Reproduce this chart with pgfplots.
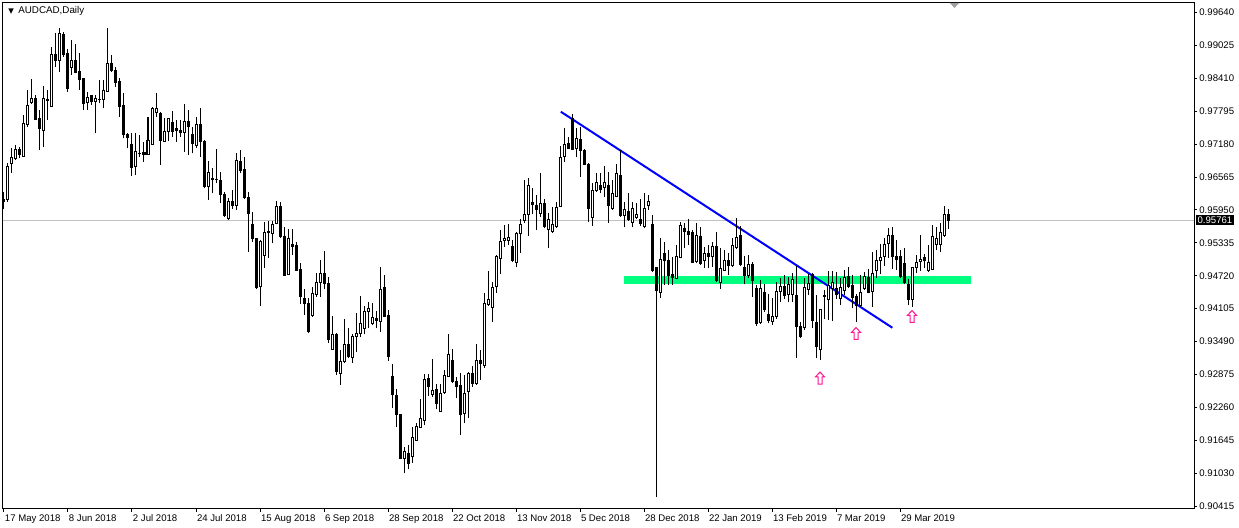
\documentclass[border=0pt]{standalone}
\usepackage{fontspec}
\setmainfont{Liberation Sans}
\newfontfamily\dejavu{DejaVu Sans}
\usepackage{pgfplots}
\usepackage{pgfplotstable}
\pgfplotsset{compat=1.18}
\definecolor{bandgreen}{RGB}{0,255,127}
\definecolor{arrowpink}{RGB}{255,20,147}
\definecolor{bidgray}{RGB}{192,192,192}
\definecolor{shiftgray}{RGB}{160,160,160}

\pgfdeclareplotmark{blank}{}
\pgfdeclareplotmark{hollowup}{%
  \pgfpathmoveto{\pgfpoint{0pt}{3pt}}
  \pgfpathlineto{\pgfpoint{2.2pt}{0.6pt}}
  \pgfpathlineto{\pgfpoint{1pt}{0.6pt}}
  \pgfpathlineto{\pgfpoint{1pt}{-3pt}}
  \pgfpathlineto{\pgfpoint{-1pt}{-3pt}}
  \pgfpathlineto{\pgfpoint{-1pt}{0.6pt}}
  \pgfpathlineto{\pgfpoint{-2.2pt}{0.6pt}}
  \pgfpathclose
  \pgfusepathqfillstroke}

% daily AUDCAD candles: bar index, open, high, low, close
\pgfplotstableread{
i o h l c
0 0.96148 0.96292 0.95961 0.96105
1 0.96136 0.96821 0.96105 0.96771
2 0.96809 0.97101 0.96647 0.96927
3 0.96915 0.97164 0.96883 0.97083
4 0.97083 0.97133 0.96915 0.96977
5 0.96946 0.97724 0.96946 0.97569
6 0.97538 0.98192 0.97506 0.97911
7 0.97955 0.98391 0.97930 0.98036
8 0.98024 0.98098 0.97631 0.97643
9 0.97650 0.97818 0.97070 0.97475
10 0.97444 0.98266 0.97133 0.98036
11 0.98017 0.98192 0.97631 0.97999
12 0.97880 0.99002 0.97880 0.98846
13 0.98846 0.99251 0.98628 0.98740
14 0.98752 0.99344 0.98534 0.99251
15 0.99220 0.99282 0.98815 0.98846
16 0.98865 0.98952 0.98161 0.98223
17 0.98615 0.99126 0.98472 0.98752
18 0.98740 0.99051 0.98503 0.98516
19 0.98534 0.98877 0.98192 0.98379
20 0.98404 0.98410 0.97818 0.97943
21 0.97961 0.98161 0.97818 0.98055
22 0.98080 0.98098 0.97911 0.97974
23 0.97974 0.98098 0.97382 0.98036
24 0.98017 0.98379 0.97943 0.98011
25 0.98005 0.98379 0.97849 0.98173
26 0.98161 0.99344 0.98161 0.98690
27 0.98678 0.98846 0.98534 0.98553
28 0.98553 0.98628 0.98254 0.98329
29 0.98347 0.98410 0.97693 0.97880
30 0.97893 0.98129 0.97288 0.97351
31 0.97369 0.97382 0.97101 0.97301
32 0.97182 0.97382 0.96584 0.96746
33 0.96759 0.97382 0.96603 0.97039
34 0.97014 0.97351 0.96946 0.97008
35 0.97020 0.97226 0.96852 0.96989
36 0.96977 0.97693 0.96977 0.97257
37 0.97164 0.97880 0.97164 0.97849
38 0.97768 0.98142 0.97693 0.97849
39 0.97755 0.97787 0.96790 0.97257
40 0.97238 0.97662 0.97226 0.97413
41 0.97413 0.97662 0.97238 0.97650
42 0.97587 0.97799 0.97319 0.97425
43 0.97463 0.97631 0.97226 0.97432
44 0.97444 0.97631 0.97319 0.97400
45 0.97400 0.97924 0.97039 0.97612
46 0.97612 0.97818 0.96977 0.97506
47 0.97351 0.97506 0.97008 0.97195
48 0.97151 0.97693 0.97114 0.97550
49 0.97550 0.97849 0.96946 0.97238
50 0.97238 0.97257 0.96354 0.96385
51 0.96385 0.96865 0.96136 0.96653
52 0.96541 0.96728 0.96260 0.96516
53 0.96522 0.97089 0.96447 0.96516
54 0.96509 0.96653 0.96073 0.96242
55 0.96242 0.96279 0.95824 0.95843
56 0.95781 0.96167 0.95762 0.96117
57 0.96105 0.96323 0.95967 0.96030
58 0.96030 0.97008 0.95949 0.96865
59 0.96852 0.97070 0.96634 0.96696
60 0.96715 0.96946 0.96154 0.96179
61 0.96179 0.96291 0.95170 0.95886
62 0.95681 0.95905 0.95357 0.95407
63 0.95407 0.95407 0.94472 0.94497
64 0.94516 0.95388 0.94161 0.95369
65 0.95095 0.95718 0.94871 0.95531
66 0.95556 0.95743 0.95058 0.95531
67 0.95513 0.95743 0.95326 0.95681
68 0.95700 0.96117 0.95681 0.96011
69 0.96011 0.96092 0.95432 0.95450
70 0.95450 0.95637 0.94721 0.94734
71 0.94746 0.95594 0.94734 0.95407
72 0.95307 0.95594 0.95108 0.95263
73 0.95282 0.95357 0.94809 0.94827
74 0.94846 0.94952 0.94186 0.94329
75 0.94298 0.94472 0.93986 0.94204
76 0.94204 0.94298 0.93644 0.93687
77 0.93986 0.94516 0.93955 0.94391
78 0.94373 0.94765 0.94329 0.94597
79 0.94591 0.95014 0.94329 0.94753
80 0.94753 0.95189 0.94466 0.94566
81 0.94566 0.94703 0.93469 0.93532
82 0.93345 0.93968 0.93345 0.93613
83 0.93613 0.93656 0.92865 0.92927
84 0.92896 0.93332 0.92678 0.93114
85 0.93114 0.93905 0.93083 0.93444
86 0.93444 0.93737 0.93176 0.93208
87 0.93195 0.93631 0.93096 0.93594
88 0.93581 0.94030 0.93301 0.93644
89 0.93644 0.94342 0.93581 0.93831
90 0.93737 0.94155 0.93631 0.94061
91 0.94049 0.94236 0.93737 0.94111
92 0.93831 0.94217 0.93799 0.93943
93 0.93924 0.94067 0.93737 0.93880
94 0.93862 0.94890 0.93675 0.94454
95 0.94503 0.94734 0.93943 0.93955
96 0.93968 0.94080 0.93133 0.93208
97 0.92834 0.93071 0.92242 0.92504
98 0.92491 0.92597 0.91899 0.92130
99 0.92136 0.92136 0.91289 0.91307
100 0.91307 0.91526 0.91027 0.91432
101 0.91401 0.91557 0.91102 0.91214
102 0.91339 0.91887 0.91227 0.91700
103 0.91638 0.91974 0.91638 0.91912
104 0.91887 0.92410 0.91868 0.92055
105 0.92011 0.92884 0.91930 0.92784
106 0.92803 0.92884 0.92473 0.92647
107 0.92510 0.93158 0.92460 0.92572
108 0.92597 0.92697 0.92223 0.92335
109 0.92180 0.92697 0.92180 0.92522
110 0.92535 0.92958 0.92510 0.92865
111 0.92846 0.93631 0.92834 0.93257
112 0.93127 0.93351 0.92709 0.92740
113 0.92753 0.92834 0.92429 0.92659
114 0.92678 0.92909 0.91744 0.92130
115 0.92149 0.92865 0.91962 0.92522
116 0.92553 0.92927 0.92055 0.92896
117 0.92884 0.93033 0.92647 0.92697
118 0.92709 0.93444 0.92678 0.93145
119 0.93145 0.93332 0.92772 0.93083
120 0.93052 0.94392 0.92996 0.94205
121 0.94192 0.94815 0.94155 0.94280
122 0.94130 0.94610 0.93862 0.94504
123 0.94516 0.95108 0.94404 0.95077
124 0.95046 0.95575 0.94753 0.95357
125 0.95376 0.95669 0.95264 0.95420
126 0.95376 0.95687 0.95295 0.95438
127 0.95276 0.95388 0.94983 0.95002
128 0.94965 0.95544 0.94878 0.95513
129 0.95513 0.95775 0.95152 0.95687
130 0.95750 0.96510 0.95712 0.95874
131 0.95856 0.96541 0.95463 0.96398
132 0.96092 0.96354 0.95874 0.96043
133 0.96024 0.96229 0.95575 0.95962
134 0.95887 0.96634 0.95825 0.96074
135 0.96074 0.96149 0.95606 0.95638
136 0.95588 0.95887 0.95233 0.95762
137 0.95544 0.95999 0.95526 0.95687
138 0.95638 0.96105 0.95606 0.95999
139 0.96011 0.97145 0.96011 0.96933
140 0.96946 0.97475 0.96852 0.97164
141 0.97183 0.97320 0.97083 0.97102
142 0.97662 0.97743 0.97071 0.97083
143 0.97102 0.97475 0.96933 0.97289
144 0.97270 0.97494 0.96572 0.97058
145 0.97058 0.97083 0.96790 0.96790
146 0.96790 0.96821 0.95731 0.95980
147 0.95812 0.96460 0.95650 0.96310
148 0.96310 0.96647 0.96292 0.96460
149 0.96398 0.96647 0.96261 0.96335
150 0.96373 0.96772 0.96198 0.96460
151 0.96416 0.96666 0.95712 0.96024
152 0.95980 0.96510 0.95949 0.96248
153 0.96198 0.96809 0.96186 0.96634
154 0.96603 0.97071 0.95825 0.95837
155 0.95837 0.96105 0.95625 0.95949
156 0.95918 0.96273 0.95750 0.95762
157 0.95712 0.96105 0.95625 0.95980
158 0.95812 0.96074 0.95775 0.95868
159 0.95762 0.96149 0.95650 0.95700
160 0.95637 0.96267 0.95606 0.95980
161 0.96030 0.96229 0.95949 0.96104
162 0.95681 0.95855 0.94796 0.94827
163 0.94871 0.94871 0.90585 0.94453
164 0.94410 0.95432 0.94298 0.95033
165 0.95139 0.95357 0.94547 0.95014
166 0.95014 0.95201 0.94547 0.94721
167 0.94746 0.95076 0.94547 0.94684
168 0.94672 0.95295 0.94659 0.95076
169 0.95058 0.95731 0.95045 0.95668
170 0.95594 0.95699 0.95232 0.95556
171 0.95556 0.95780 0.95295 0.95494
172 0.95531 0.95575 0.94971 0.94971
173 0.94983 0.95699 0.94952 0.95481
174 0.95450 0.95637 0.94921 0.94952
175 0.95014 0.95263 0.94858 0.95139
176 0.95139 0.95295 0.94858 0.95076
177 0.95076 0.95357 0.94890 0.95263
178 0.95263 0.95531 0.94597 0.94640
179 0.94597 0.95232 0.94472 0.94858
180 0.94827 0.95201 0.94809 0.95014
181 0.95014 0.95139 0.94734 0.94908
182 0.94908 0.95419 0.94890 0.95282
183 0.95245 0.95793 0.95220 0.95432
184 0.95469 0.95656 0.94908 0.94921
185 0.94871 0.95095 0.94559 0.94721
186 0.94721 0.95108 0.94684 0.94933
187 0.94933 0.94983 0.94329 0.94622
188 0.94485 0.94547 0.93787 0.93830
189 0.93849 0.94640 0.93812 0.94485
190 0.94410 0.94559 0.94049 0.94080
191 0.93999 0.94373 0.93830 0.93893
192 0.93874 0.94310 0.93799 0.93955
193 0.93955 0.94609 0.93911 0.94422
194 0.94422 0.94672 0.94223 0.94516
195 0.94516 0.94734 0.94285 0.94360
196 0.94373 0.94703 0.94223 0.94559
197 0.94373 0.94765 0.94235 0.94659
198 0.94360 0.94908 0.93176 0.93768
199 0.93768 0.93862 0.93550 0.93581
200 0.93750 0.94684 0.93706 0.94497
201 0.94472 0.94746 0.94360 0.94578
202 0.94746 0.94765 0.93737 0.93893
203 0.93849 0.94360 0.93176 0.93394
204 0.93351 0.94098 0.93145 0.94098
205 0.94348 0.94453 0.93911 0.94323
206 0.94285 0.94809 0.93893 0.94547
207 0.94485 0.94809 0.93874 0.94597
208 0.94485 0.94796 0.94285 0.94373
209 0.94298 0.94672 0.94173 0.94497
210 0.94453 0.94827 0.94360 0.94684
211 0.94703 0.94890 0.94485 0.94516
212 0.94547 0.94734 0.94111 0.94310
213 0.94329 0.94373 0.93849 0.94173
214 0.94173 0.94734 0.94142 0.94410
215 0.94485 0.94784 0.94453 0.94703
216 0.94684 0.94846 0.94391 0.94410
217 0.94422 0.95170 0.94142 0.94765
218 0.94809 0.95201 0.94684 0.95014
219 0.95014 0.95307 0.94746 0.95058
220 0.95076 0.95419 0.94908 0.95307
221 0.95326 0.95619 0.95045 0.95481
222 0.95481 0.95637 0.94846 0.95076
223 0.95076 0.95388 0.94827 0.95033
224 0.95076 0.95201 0.94672 0.94703
225 0.94952 0.95232 0.94559 0.94597
226 0.94559 0.94659 0.94173 0.94285
227 0.94285 0.94890 0.94142 0.94871
228 0.94871 0.95108 0.94765 0.94971
229 0.94983 0.95481 0.94809 0.95033
230 0.95058 0.95120 0.94871 0.94996
231 0.94827 0.95295 0.94784 0.94971
232 0.94846 0.95668 0.94827 0.95450
233 0.95307 0.95637 0.95201 0.95419
234 0.95307 0.95699 0.95157 0.95531
235 0.95469 0.96030 0.95450 0.95868
236 0.95868 0.95967 0.95594 0.95761
}\ohlc

% up arrows under the chart (bar index, price)
\pgfplotstableread{
i p
204 0.92809
213 0.93641
227 0.93959
}\arrows

\begin{document}
\begin{tikzpicture}
\useasboundingbox (-1.5pt,-9.5pt) rectangle (618pt,254.5pt);
\begin{axis}[
  at={(0,0)}, anchor=south west,
  scale only axis,
  width=595.5pt, height=253pt,
  xmin=-0.25, xmax=297.5,
  ymin=0.90361, ymax=0.99818,
  axis line style={line width=0.5pt},
  every tick/.style={black, line width=0.5pt},
  tick align=outside,
  major tick length=1.5pt,
  xtick pos=left, ytick pos=right,
  yticklabel pos=right,
  xtick={0,16,...,224},
  xticklabels={17 May 2018, 8 Jun 2018, 2 Jul 2018, 24 Jul 2018, 15 Aug 2018,
    6 Sep 2018, 28 Sep 2018, 22 Oct 2018, 13 Nov 2018, 5 Dec 2018,
    28 Dec 2018, 22 Jan 2019, 13 Feb 2019, 7 Mar 2019, 29 Mar 2019},
  ytick={0.90415,0.91030,0.91645,0.92260,0.92875,0.93490,0.94105,0.94720,
    0.95335,0.95950,0.96565,0.97180,0.97795,0.98410,0.99025,0.99640},
  yticklabels={0.90415,0.91030,0.91645,0.92260,0.92875,0.93490,0.94105,0.94720,
    0.95335,0.95950,0.96565,0.97180,0.97795,0.98410,0.99025,0.99640},
  xticklabel style={anchor=north west, inner sep=0pt, xshift=0.3pt, yshift=-1.2pt,
    font=\fontsize{4.8}{5}\selectfont},
  yticklabel style={anchor=west, inner sep=0pt, xshift=1pt,
    font=\fontsize{4.8}{5}\selectfont},
  clip=false,
]
% bid line
\addplot[bidgray, line width=0.5pt] coordinates {(-0.25,0.95761) (297.5,0.95761)};
% support band
\addplot[fill=bandgreen, draw=none] coordinates
  {(155,0.94566) (241.75,0.94566) (241.75,0.94716) (155,0.94716)} -- cycle;
% candles
\addplot[
  scatter, only marks, mark=blank,
  point meta={\thisrow{c}>\thisrow{o}},
  point meta min=0, point meta max=1,
  visualization depends on={\thisrow{h}-\thisrow{o} \as \cH},
  visualization depends on={\thisrow{l}-\thisrow{o} \as \cL},
  visualization depends on={\thisrow{c}-\thisrow{o} \as \cB},
  scatter/@pre marker code/.code={%
    \ifdim\pgfplotspointmetatransformed pt>500pt
      \def\bodycol{white}\else\def\bodycol{black}\fi
    \draw[black, line width=0.5pt] (axis direction cs:0,\cL) -- (axis direction cs:0,\cH);
    \draw[black, line width=0.5pt, fill=\bodycol]
      (axis direction cs:-0.25,0) rectangle (axis direction cs:0.25,\cB);
  },
  scatter/@post marker code/.code={},
] table[x=i, y=o] {\ohlc};
% trend line
\addplot[blue, line width=1pt] coordinates {(139.2,0.97786) (222.1,0.93748)};
% arrows
\addplot[only marks, mark=hollowup, mark options={draw=arrowpink, fill=white, line width=0.5pt}]
  table[x=i, y=p] {\arrows};
% current price tag
\node[fill=black, text=white, anchor=west, inner xsep=0.8pt, inner ysep=0.7pt,
  font=\fontsize{4.8}{5}\selectfont] at (axis cs:297.5,0.95761) [xshift=0.8pt] {0.95761};
% chart shift marker
\fill[shiftgray] (axis cs:236.5,0.99818) -- (axis cs:238.75,0.99818)
  -- ([yshift=-2.5pt]axis cs:237.6,0.99818) -- cycle;
% symbol and period
\node[anchor=west, inner sep=0pt] at (rel axis cs:0,1) [xshift=2.5pt, yshift=-4pt]
  {{\dejavu\fontsize{3.6}{4}\selectfont ▼}\hspace{2.2pt}{\fontsize{4.9}{5}\selectfont AUDCAD,Daily}};
\end{axis}
\end{tikzpicture}
\end{document}
